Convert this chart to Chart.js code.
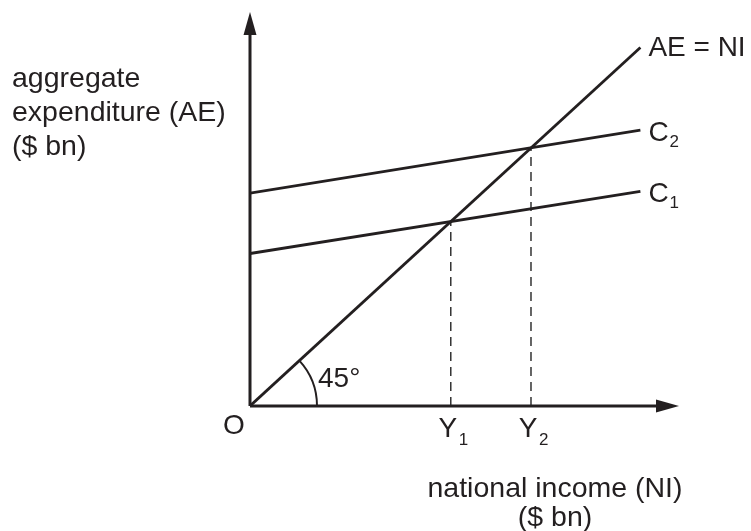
<!DOCTYPE html>
<html>
<head>
<meta charset="utf-8">
<script src="https://cdn.jsdelivr.net/npm/chart.js@4/dist/chart.umd.min.js"></script>
<style>
  html, body { margin: 0; padding: 0; background: #fff; }
  #chart { display: block; }
</style>
</head>
<body>
<canvas id="chart" width="751" height="531"></canvas>
<script>
// axis range (arbitrary units, both axes)
var axisRange = [0, 100]

// lines: [x, y] end points
var aeLine = [[0, 0], [91, 91]]
var c1Line = [[0, 38.7], [91, 54.5]]
var c2Line = [[0, 54], [91, 70]]

// equilibrium incomes Y1, Y2
var eqIncome = [46.8, 65.5]
var eqLabels = ['1', '2']

var ink = '#231f20'
var font = '"Liberation Sans", Arial, sans-serif'

function toPts(arr) {
    return arr.map(function (p) { return { x: p[0], y: p[1] } })
}

function solidSet(arr) {
    return {
        data: toPts(arr),
        showLine: true,
        borderColor: ink,
        borderWidth: 2.8,
        pointRadius: 0,
        tension: 0
    }
}

var datasets = [solidSet(aeLine), solidSet(c1Line), solidSet(c2Line)]

eqIncome.forEach(function (v) {
    datasets.push({
        data: [{ x: v, y: 0 }, { x: v, y: v }],
        showLine: true,
        borderColor: '#333',
        borderWidth: 1.5,
        borderDash: [9, 6],
        pointRadius: 0
    })
})

function text(ctx, s, x, y, size, align) {
    ctx.font = size + 'px ' + font
    ctx.textAlign = align || 'left'
    ctx.textBaseline = 'alphabetic'
    ctx.fillText(s, x, y)
}

var decorPlugin = {
    id: 'decor',
    afterDatasetsDraw: function (chart) {
        var ctx = chart.ctx
        var xs = chart.scales.x, ys = chart.scales.y
        var ox = xs.getPixelForValue(0), oy = ys.getPixelForValue(0)
        var xEnd = xs.getPixelForValue(axisRange[1])
        var yEnd = ys.getPixelForValue(axisRange[1])
        ctx.save()
        ctx.strokeStyle = ink
        ctx.fillStyle = ink
        ctx.lineWidth = 3

        // axes
        ctx.beginPath()
        ctx.moveTo(ox, oy)
        ctx.lineTo(xEnd - 20, oy)
        ctx.moveTo(ox, oy)
        ctx.lineTo(ox, yEnd + 20)
        ctx.stroke()

        // arrowheads
        ctx.beginPath()
        ctx.moveTo(xEnd, oy)
        ctx.lineTo(xEnd - 23, oy - 6.5)
        ctx.lineTo(xEnd - 23, oy + 6.5)
        ctx.closePath()
        ctx.fill()
        ctx.beginPath()
        ctx.moveTo(ox, yEnd)
        ctx.lineTo(ox - 6.5, yEnd + 23)
        ctx.lineTo(ox + 6.5, yEnd + 23)
        ctx.closePath()
        ctx.fill()

        // 45 degree arc
        var px = xs.getPixelForValue(10), py = ys.getPixelForValue(10)
        var ang = Math.atan2(py - oy, px - ox)
        ctx.lineWidth = 2
        ctx.beginPath()
        ctx.arc(ox, oy, 67, ang, 0)
        ctx.stroke()

        // labels
        text(ctx, '45\u00b0', 318, 387, 28)
        text(ctx, 'O', 234, 434, 28, 'center')
        eqIncome.forEach(function (v, i) {
            var x = xs.getPixelForValue(v)
            text(ctx, 'Y', x - 3, 437, 28, 'center')
            text(ctx, eqLabels[i], x + 8, 445, 17)
        })

        var ae = aeLine[1], c1 = c1Line[1], c2 = c2Line[1]
        text(ctx, 'AE = NI', xs.getPixelForValue(ae[0]) + 8, ys.getPixelForValue(ae[1]) + 9, 28)
        text(ctx, 'C', xs.getPixelForValue(c2[0]) + 8, ys.getPixelForValue(c2[1]) + 11, 28)
        text(ctx, '2', xs.getPixelForValue(c2[0]) + 29, ys.getPixelForValue(c2[1]) + 17, 17)
        text(ctx, 'C', xs.getPixelForValue(c1[0]) + 8, ys.getPixelForValue(c1[1]) + 11, 28)
        text(ctx, '1', xs.getPixelForValue(c1[0]) + 29, ys.getPixelForValue(c1[1]) + 17, 17)

        // axis titles
        text(ctx, 'aggregate', 12, 87, 28.5)
        text(ctx, 'expenditure (AE)', 12, 121, 28.5)
        text(ctx, '($ bn)', 12, 155, 28.5)
        text(ctx, 'national income (NI)', 555, 497, 28.5, 'center')
        text(ctx, '($ bn)', 555, 526, 28.5, 'center')
        ctx.restore()
    }
}

var chart = new Chart(document.getElementById('chart').getContext('2d'), {
    type: 'scatter',
    data: { datasets: datasets },
    options: {
        responsive: false,
        animation: false,
        devicePixelRatio: 1,
        layout: { padding: { left: 250, right: 72, top: 12, bottom: 125 } },
        plugins: { legend: { display: false }, tooltip: { enabled: false } },
        scales: {
            x: { type: 'linear', min: axisRange[0], max: axisRange[1], display: false },
            y: { type: 'linear', min: axisRange[0], max: axisRange[1], display: false }
        }
    },
    plugins: [decorPlugin]
})
</script>
</body>
</html>
